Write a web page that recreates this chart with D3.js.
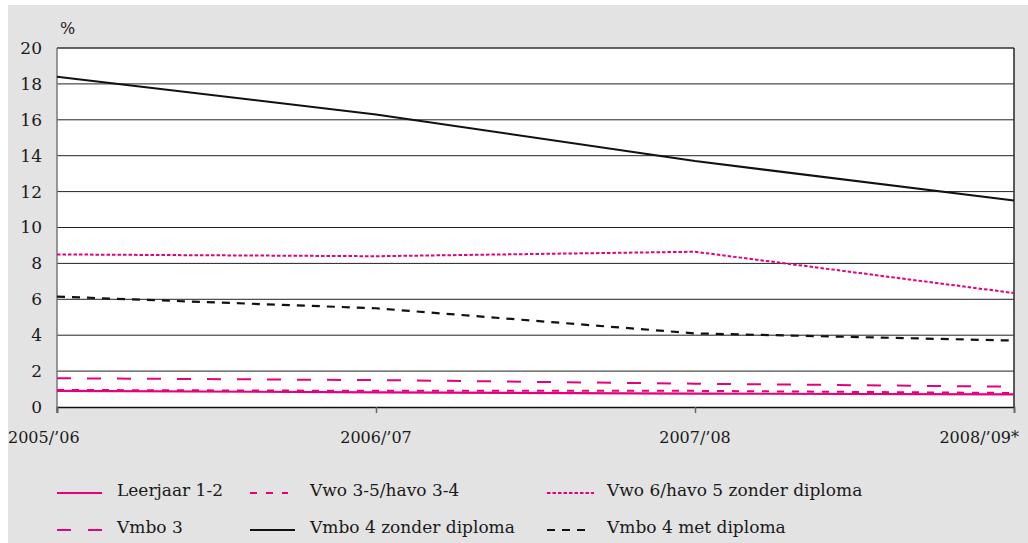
<!DOCTYPE html>
<html><head><meta charset="utf-8">
<script src="https://cdn.jsdelivr.net/npm/d3@7"></script>
<style>
html,body{margin:0;padding:0;background:#fff;}
svg{display:block;}
svg text{font-family:"DejaVu Serif",serif !important;fill:#1a1a1a;}
</style></head><body>
<svg id="c" width="1028" height="543"></svg>
<script>
const categories = ["2005/\u201906", "2006/\u201907", "2007/\u201908", "2008/\u201909*"];
const yTicks = [0, 2, 4, 6, 8, 10, 12, 14, 16, 18, 20];
const seriesNames = ["Leerjaar 1-2", "Vwo 3-5/havo 3-4", "Vwo 6/havo 5 zonder diploma", "Vmbo 3", "Vmbo 4 zonder diploma", "Vmbo 4 met diploma"];
const leerjaar12 = [0.9, 0.82, 0.75, 0.7];
const vwo35havo34 = [0.95, 0.9, 0.9, 0.78];
const vwo6havo5 = [8.5, 8.4, 8.65, 6.35];
const vmbo3 = [1.6, 1.5, 1.3, 1.13];
const vmbo4zonder = [18.4, 16.3, 13.7, 11.5];
const vmbo4met = [6.15, 5.5, 4.1, 3.7];

const PINK = "#e5007d", BLACK = "#111";
const series = [
  {name: seriesNames[0], values: leerjaar12, color: PINK, dash: null, w: 2.2},
  {name: seriesNames[1], values: vwo35havo34, color: PINK, dash: "7,8", w: 2},
  {name: seriesNames[2], values: vwo6havo5, color: PINK, dash: "3.5,2", w: 2},
  {name: seriesNames[3], values: vmbo3, color: PINK, dash: "14,16", w: 2},
  {name: seriesNames[4], values: vmbo4zonder, color: BLACK, dash: null, w: 2},
  {name: seriesNames[5], values: vmbo4met, color: BLACK, dash: "8,7", w: 2.2}
];

const svg = d3.select("#c");
svg.append("rect").attr("x", 8).attr("y", 5).attr("width", 1020).attr("height", 538).attr("fill", "#e2e3e2");

const L = 57, R = 1014, T = 48, B = 407;
const x = d3.scalePoint().domain(categories).range([L, R]).padding(0);
const y = d3.scaleLinear().domain([0, 20]).range([B, T]);

svg.append("rect").attr("x", L).attr("y", T).attr("width", R - L).attr("height", B - T).attr("fill", "#fff");

svg.append("g").selectAll("line").data(yTicks.filter(d => d > 0)).join("line")
  .attr("x1", L).attr("x2", R).attr("y1", d => y(d)).attr("y2", d => y(d))
  .attr("stroke", d => d === 20 ? "#333" : "#222").attr("stroke-width", d => d === 20 ? 1.6 : 1);
svg.append("line").attr("x1", R).attr("x2", R).attr("y1", T).attr("y2", B).attr("stroke", "#333").attr("stroke-width", 1.6);

const yAxis = d3.axisLeft(y).tickValues(yTicks).tickSize(0).tickPadding(15);
const gy = svg.append("g").attr("transform", `translate(${L},0)`).call(yAxis);
gy.select(".domain").remove();
gy.selectAll("text").attr("font-size", 17).attr("fill", "#1a1a1a");
svg.append("line").attr("x1", L).attr("x2", L).attr("y1", T).attr("y2", B + 6).attr("stroke", "#777").attr("stroke-width", 1.5);

const xAxis = d3.axisBottom(x).tickSize(6).tickFormat("");
const gx = svg.append("g").attr("transform", `translate(0,${B})`).call(xAxis);
gx.select(".domain").attr("stroke", "#111").attr("stroke-width", 1.4);
gx.selectAll(".tick line").attr("stroke", "#666").attr("stroke-width", 1.5);

svg.append("g").selectAll("text").data(categories).join("text")
  .attr("x", (d, i) => i === 0 ? 8 : (i === categories.length - 1 ? 1019 : x(d)))
  .attr("y", 443)
  .attr("text-anchor", (d, i) => i === 0 ? "start" : (i === categories.length - 1 ? "end" : "middle"))
  .attr("font-size", 16).text(d => d);

svg.append("text").attr("x", 60).attr("y", 34).attr("font-size", 16).text("%");

const line = d3.line().x((d, i) => x(categories[i])).y(d => y(d));
svg.append("g").selectAll("path").data(series).join("path")
  .attr("d", d => line(d.values)).attr("fill", "none")
  .attr("stroke", d => d.color).attr("stroke-width", d => d.w)
  .attr("stroke-dasharray", d => d.dash);

const legendPos = [
  {sx: 57, sw: 45, tx: 117, ty: 490},
  {sx: 250, sw: 38, tx: 310, ty: 490},
  {sx: 547, sw: 47, tx: 607, ty: 490},
  {sx: 57, sw: 45, tx: 117, ty: 527},
  {sx: 250, sw: 45, tx: 310, ty: 527},
  {sx: 547, sw: 38, tx: 607, ty: 527}
];
const lg = svg.append("g").selectAll("g").data(series).join("g");
lg.append("line")
  .attr("x1", (d, i) => legendPos[i].sx).attr("x2", (d, i) => legendPos[i].sx + legendPos[i].sw)
  .attr("y1", (d, i) => legendPos[i].ty + 3).attr("y2", (d, i) => legendPos[i].ty + 3)
  .attr("stroke", d => d.color).attr("stroke-width", 2.2)
  .attr("stroke-dasharray", (d, i) => i === 3 ? "14,17" : (i === 1 ? "7,9" : (i === 5 ? "8,7" : d.dash)));
lg.append("text")
  .attr("x", (d, i) => legendPos[i].tx).attr("y", (d, i) => legendPos[i].ty + 6)
  .attr("font-size", 17).text(d => d.name);
</script>
</body></html>
